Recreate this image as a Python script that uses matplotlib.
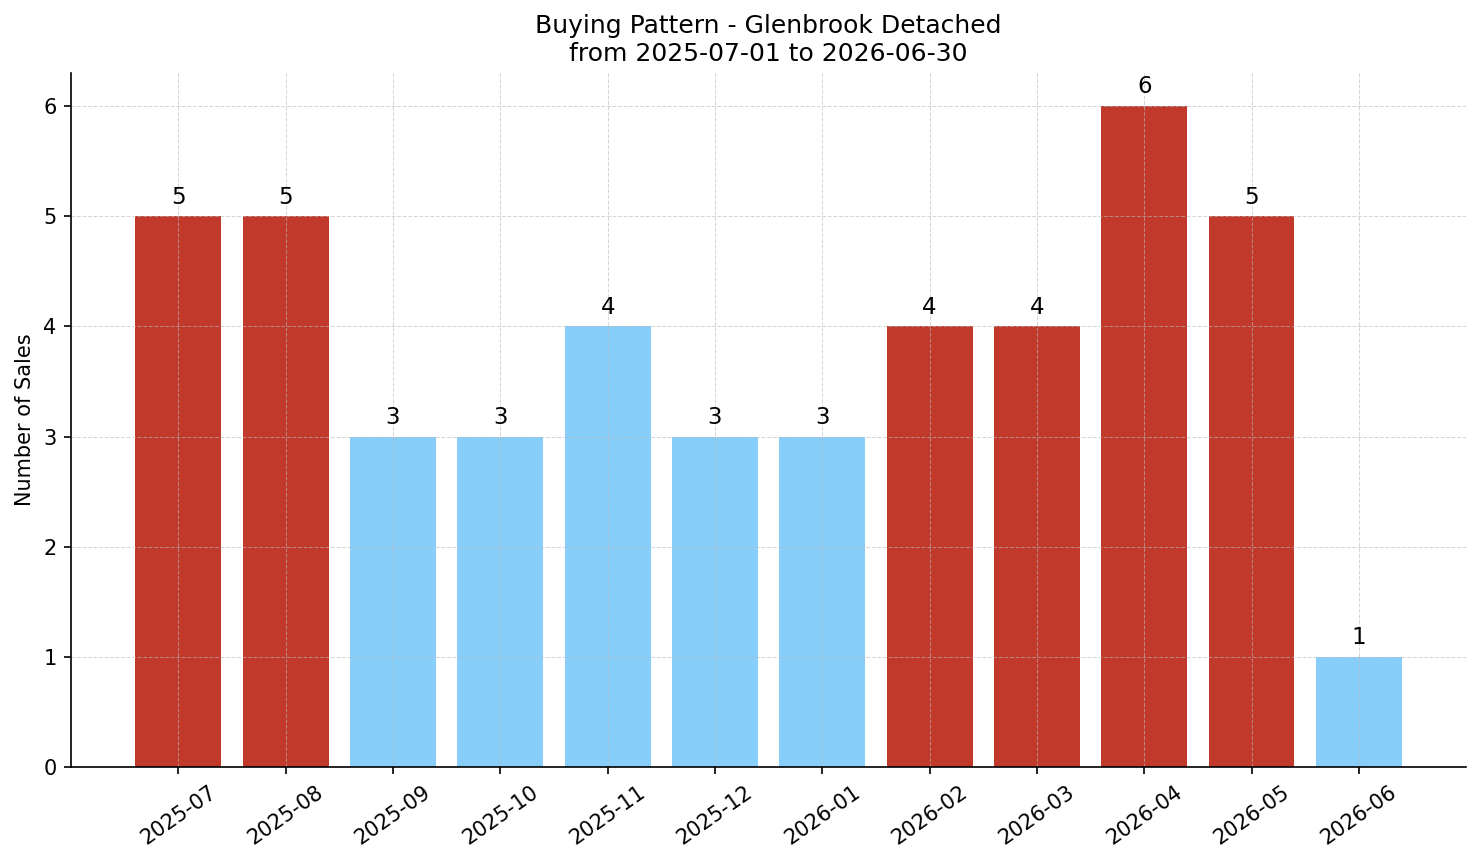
import matplotlib
matplotlib.use("Agg")
import matplotlib.pyplot as plt

months = ["2025-07", "2025-08", "2025-09", "2025-10", "2025-11", "2025-12",
          "2026-01", "2026-02", "2026-03", "2026-04", "2026-05", "2026-06"]
sales = [5, 5, 3, 3, 4, 3, 3, 4, 4, 6, 5, 1]
highlight = [True, True, False, False, False, False,
             False, True, True, True, True, False]

RED = "#c0392b"
BLUE = "#87cefa"
colors = [RED if h else BLUE for h in highlight]

fig = plt.figure(figsize=(1481 / 150, 863 / 150), dpi=150)
ax = fig.add_axes([0.048, 0.1112, 0.942, 0.8042])

x = list(range(len(months)))
ax.bar(x, sales, width=0.8, color=colors)
for xi, v in zip(x, sales):
    ax.text(xi, v + 0.07, str(v), ha="center", va="bottom", fontsize=11)

ax.set_xticks(x)
ax.set_xticklabels(months, rotation=35, ha="center")
ax.set_xlim(-1, 12)
ax.set_ylim(0, 6.3)
ax.set_ylabel("Number of Sales")
ax.set_title("Buying Pattern - Glenbrook Detached\nfrom 2025-07-01 to 2026-06-30",
             fontsize=12)
ax.grid(True, linestyle="--", color="#bbbbbb", linewidth=0.5, alpha=0.6)
ax.spines["top"].set_visible(False)
ax.spines["right"].set_visible(False)

fig.savefig("out.png", dpi=150)
